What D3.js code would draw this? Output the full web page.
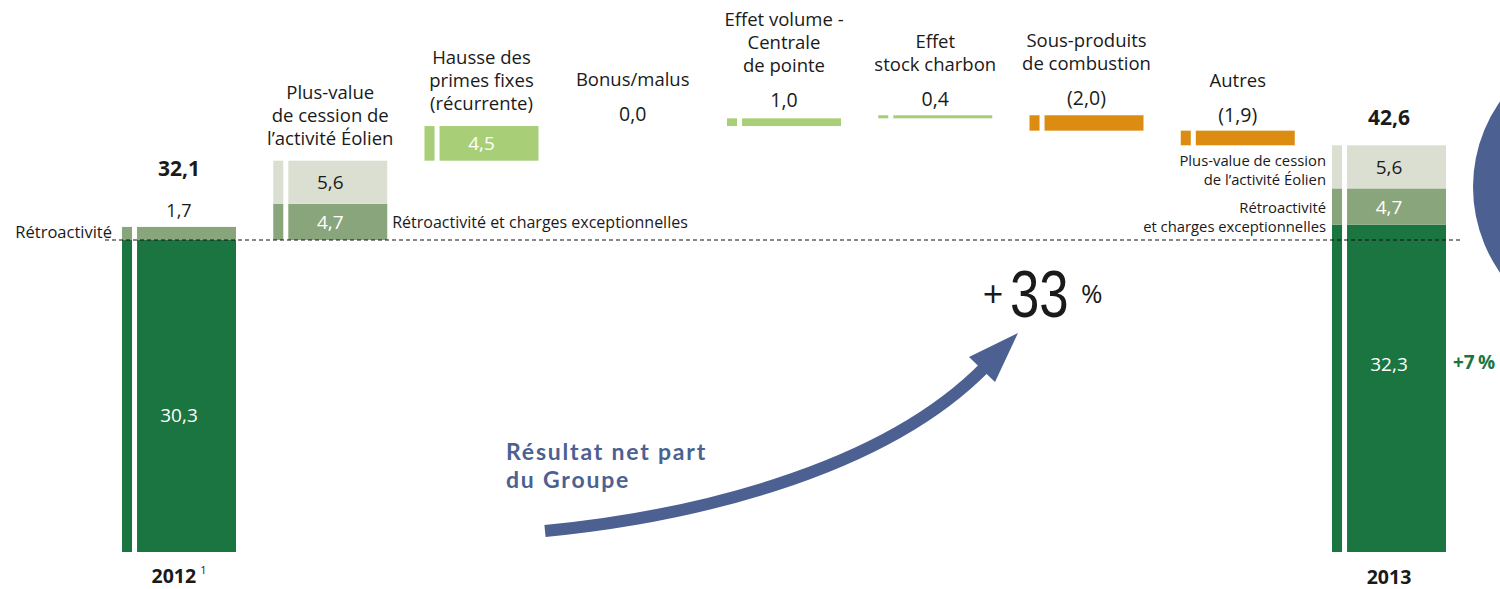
<!DOCTYPE html>
<html><head><meta charset="utf-8">
<script src="https://cdn.jsdelivr.net/npm/d3@7"></script>
<style>
html,body{margin:0;padding:0;background:#fff;overflow:hidden}
svg{display:block}
text{font-family:"Open Sans","Noto Sans",sans-serif;fill:#1a1a1a}
</style></head>
<body>
<svg id="chart" width="1500" height="589"></svg>
<script>
// ---------- DATA ----------
const categories = ["2012","Plus-value","Hausse","Bonus","Volume","Stock","SousProduits","Autres","2013"];
const categoryLabels = [
  [],
  ["Plus-value","de cession de","l\u2019activité Éolien"],
  ["Hausse des","primes fixes","(récurrente)"],
  ["Bonus/malus"],
  ["Effet volume -","Centrale","de pointe"],
  ["Effet","stock charbon"],
  ["Sous-produits","de combustion"],
  ["Autres"],
  []
];
const startBase = 30.3;          // résultat 2012 hors éléments
const startRetro = 1.7;          // rétroactivité 2012
const startTotal = 32.1;         // total 2012 affiché
const plusValueEolien = 5.6;
const retroCharges = 4.7;
const deltas = [null, null, 4.5, 0.0, 1.0, 0.4, -2.0, -1.9, null];
const endBase = 32.3;
const endTotal = 42.6;
const growthTotal = "33";
const growthBase = "+7 %";
const yearLabels = ["2012", "2013"];

// ---------- LAYOUT ----------
const labelNudge = [0, 0, 0, 7, 1, 3, 2, 3, 0];
const colors = {dark:"#1b7540", retro:"#88a57b", light:"#dadfd1", pos:"#a8cf78", neg:"#dd8c12", blue:"#4c6191"};
const svg = d3.select("#chart");

const x = d3.scaleBand().domain(categories).range([122, 1446]).paddingInner(0.2463).paddingOuter(0);
// broken scale: lower part compressed to bottom of the bars, upper part detailed
const y = d3.scaleLinear().domain([0, startBase, 50]).range([552, 240, 240 - (50 - startBase) * 7.7]);
const bw = x.bandwidth();
const sliverW = bw * 0.088, gapW = bw * 0.044;
const fmt = v => { const s = d3.format(".1f")(Math.abs(v)).replace(".", ","); return v < 0 ? "(" + s + ")" : s; };

// build segments
const segments = [];
const c0 = categories[0];
segments.push({cat:c0, y0:0, y1:startBase, color:colors.dark});
segments.push({cat:c0, y0:startBase, y1:startBase + startRetro, color:colors.retro});
const c1 = categories[1];
segments.push({cat:c1, y0:startBase, y1:startBase + retroCharges, color:colors.retro, label:fmt(retroCharges), lc:"#fff"});
segments.push({cat:c1, y0:startBase + retroCharges, y1:startBase + retroCharges + plusValueEolien, color:colors.light, label:fmt(plusValueEolien), lc:"#1a1a1a"});
let running = startBase + retroCharges + plusValueEolien;
const tops = {};
tops[c1] = running;
for (let i = 2; i < 8; i++) {
  const d = deltas[i], a = running, b = running + d;
  tops[categories[i]] = Math.max(a, b);
  if (d !== 0) segments.push({cat:categories[i], y0:Math.min(a,b), y1:Math.max(a,b), color: d > 0 ? colors.pos : colors.neg, label: i === 2 ? fmt(d) : null, lc:"#fff"});
  running = b;
}
const c8 = categories[8];
segments.push({cat:c8, y0:0, y1:endBase, color:colors.dark});
segments.push({cat:c8, y0:endBase, y1:endBase + retroCharges, color:colors.retro, label:fmt(retroCharges), lc:"#fff"});
segments.push({cat:c8, y0:endBase + retroCharges, y1:endTotal, color:colors.light, label:fmt(plusValueEolien), lc:"#1a1a1a"});

// blue circle (decor, right edge)
svg.append("circle").attr("cx", 1622).attr("cy", 187).attr("r", 149).attr("fill", colors.blue);

// bars: sliver + main part
const g = svg.append("g");
segments.forEach(s => {
  const x0 = x(s.cat), yt = y(s.y1), hh = y(s.y0) - y(s.y1);
  g.append("rect").attr("x", x0).attr("y", yt).attr("width", sliverW).attr("height", hh).attr("fill", s.color);
  g.append("rect").attr("x", x0 + sliverW + gapW).attr("y", yt).attr("width", bw - sliverW - gapW).attr("height", hh).attr("fill", s.color);
  if (s.label) {
    g.append("text").attr("x", x0 + bw / 2).attr("y", (yt + y(s.y0)) / 2 + 7)
      .attr("text-anchor", "middle").attr("font-size", 19).style("fill", s.lc).text(s.label);
  }
});

// dashed reference line
svg.append("line").attr("x1", 105).attr("x2", 1460).attr("y1", y(startBase)).attr("y2", y(startBase))
  .attr("stroke", "#111").attr("stroke-width", 1).attr("stroke-dasharray", "4,3");

// base values inside the big bars
svg.append("text").attr("x", x(c0) + bw/2).attr("y", 422).attr("text-anchor","middle").attr("font-size",19).style("fill","#fff").text(fmt(startBase));
svg.append("text").attr("x", x(c8) + bw/2).attr("y", 371).attr("text-anchor","middle").attr("font-size",19).style("fill","#fff").text(fmt(endBase));

// 2012 labels
const top2012 = y(startBase + startRetro);
svg.append("text").attr("x", x(c0) + bw/2).attr("y", top2012 - 10).attr("text-anchor","middle").attr("font-size",18).text(fmt(startRetro));
svg.append("text").attr("x", x(c0) + bw/2).attr("y", top2012 - 51).attr("text-anchor","middle").attr("font-size",21).attr("font-weight","bold").text(fmt(startTotal));
svg.append("text").attr("x", x(c0) - 10).attr("y", (top2012 + y(startBase))/2 + 5).attr("text-anchor","end").attr("font-size",16.5).text("Rétroactivité");

// Plus-value side label
svg.append("text").attr("x", x(c1) + bw + 5).attr("y", (y(startBase) + y(startBase + retroCharges))/2 + 6).attr("font-size",16).text("Rétroactivité et charges exceptionnelles");

// 2013 labels
const top2013 = y(endTotal);
svg.append("text").attr("x", x(c8) + bw/2).attr("y", top2013 - 20).attr("text-anchor","middle").attr("font-size",21).attr("font-weight","bold").text(fmt(endTotal));
const mLight = (y(endBase + retroCharges) + y(endTotal))/2, mRetro = (y(endBase) + y(endBase + retroCharges))/2;
[["Plus-value de cession", mLight - 1], ["de l\u2019activité Éolien", mLight + 18], ["Rétroactivité", mRetro + 6], ["et charges exceptionnelles", mRetro + 25]].forEach(([t, yy]) => {
  svg.append("text").attr("x", x(c8) - 6).attr("y", yy).attr("text-anchor","end").attr("font-size",14.8).text(t);
});
svg.append("text").attr("x", x(c8) + bw + 7).attr("y", 369).attr("font-size",19).attr("font-weight","bold").style("fill",colors.dark).text(growthBase.replace(" ", "\u2009"));

// category labels + delta values
for (let i = 1; i < 8; i++) {
  const cat = categories[i], cx = x(cat) + bw/2, barTop = y(tops[cat]);
  let lastBase;
  if (i <= 2) {
    lastBase = barTop - 16;
  } else {
    const vb = barTop - 12 + labelNudge[i];
    svg.append("text").attr("x", cx).attr("y", vb).attr("text-anchor","middle").attr("font-size",19.5).text(fmt(deltas[i]));
    lastBase = vb - 35;
  }
  const lines = categoryLabels[i];
  lines.forEach((l, k) => {
    svg.append("text").attr("x", cx).attr("y", lastBase - (lines.length - 1 - k) * 23)
      .attr("text-anchor","middle").attr("font-size",18.5).text(l);
  });
}

// year labels
const t12 = svg.append("text").attr("x", x(c0) + bw/2).attr("y", 583).attr("text-anchor","middle").attr("font-size",19.5).attr("font-weight","bold");
t12.append("tspan").text(yearLabels[0]);
t12.append("tspan").attr("dx", 4).attr("dy", -9).attr("font-size", 11).attr("font-weight","normal").text("1");
svg.append("text").attr("x", x(c8) + bw/2).attr("y", 584).attr("text-anchor","middle").attr("font-size",19.5).attr("font-weight","bold").text(yearLabels[1]);

// arrow
svg.append("path").attr("d", "M545,531 C680,518 880,475 986,366").attr("fill","none").attr("stroke",colors.blue).attr("stroke-width",12);
svg.append("path").attr("d", "M1018,333 L969,357 L995,382 Z").attr("fill",colors.blue);

// +33 %
svg.append("text").attr("x", 993).attr("y", 307).attr("text-anchor","middle").attr("font-size",36).text("+");
svg.append("text").attr("transform", "translate(1010,317) scale(0.8,1)").attr("font-size",66)
  .style("font-family","'Liberation Sans',Arial,sans-serif").text(growthTotal);
svg.append("text").attr("x", 1081).attr("y", 303).attr("font-size",26).text("%");

// subtitle
[["Résultat net part", 460], ["du Groupe", 488]].forEach(([t, yy]) => {
  svg.append("text").attr("x", 506).attr("y", yy).attr("font-size",23).attr("font-weight","bold")
    .attr("letter-spacing", 1.8)
    .style("font-family","Lato,'Open Sans',sans-serif").style("fill",colors.blue).text(t);
});
</script>
</body></html>
